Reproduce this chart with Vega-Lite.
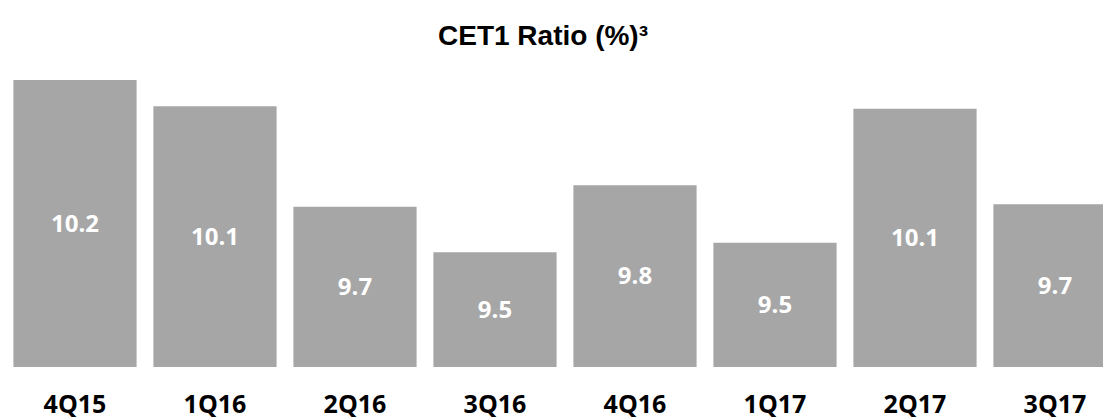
{
  "$schema": "https://vega.github.io/schema/vega-lite/v6.json",
  "autosize": "none",
  "padding": {"left": 5, "top": 80, "right": 0, "bottom": 50},
  "width": 1120,
  "height": 287,
  "background": "white",
  "title": {
    "text": "CET1 Ratio (%)³",
    "font": "Liberation Sans",
    "fontSize": 28,
    "fontWeight": "bold",
    "color": "#000000",
    "anchor": "middle",
    "frame": "group",
    "dx": -22,
    "offset": 7,
    "baseline": "alphabetic"
  },
  "data": {
    "values": [
      {"quarter": "4Q15", "value": 10.20},
      {"quarter": "1Q16", "value": 10.09},
      {"quarter": "2Q16", "value": 9.67},
      {"quarter": "3Q16", "value": 9.48},
      {"quarter": "4Q16", "value": 9.76},
      {"quarter": "1Q17", "value": 9.52},
      {"quarter": "2Q17", "value": 10.08},
      {"quarter": "3Q17", "value": 9.68}
    ]
  },
  "encoding": {
    "x": {
      "field": "quarter",
      "type": "nominal",
      "sort": null,
      "scale": {"paddingInner": 0.12, "paddingOuter": 0.06},
      "axis": {
        "title": null,
        "domain": false,
        "ticks": false,
        "tickSize": 0,
        "labelAngle": 0,
        "labelFont": "Open Sans",
        "labelFontSize": 25,
        "labelFontWeight": "bold",
        "labelColor": "#000000",
        "labelBaseline": "alphabetic",
        "labelPadding": 45
      }
    }
  },
  "layer": [
    {
      "mark": {"type": "bar", "color": "#a6a6a6"},
      "encoding": {
        "y": {
          "field": "value",
          "type": "quantitative",
          "scale": {"domain": [9.0, 10.2], "zero": false, "nice": false},
          "axis": null
        },
        "y2": {"datum": 9.0}
      }
    },
    {
      "mark": {
        "type": "text",
        "color": "#ffffff",
        "font": "Open Sans",
        "fontSize": 24,
        "fontWeight": "bold",
        "baseline": "middle",
        "dy": 1
      },
      "encoding": {
        "y": {
          "field": "value",
          "type": "quantitative",
          "scale": {"domain": [9.0, 11.4], "zero": false, "nice": false},
          "axis": null
        },
        "text": {"field": "value", "type": "quantitative", "format": ".1f"}
      }
    }
  ],
  "resolve": {"scale": {"y": "independent"}},
  "config": {"view": {"stroke": null}}
}
